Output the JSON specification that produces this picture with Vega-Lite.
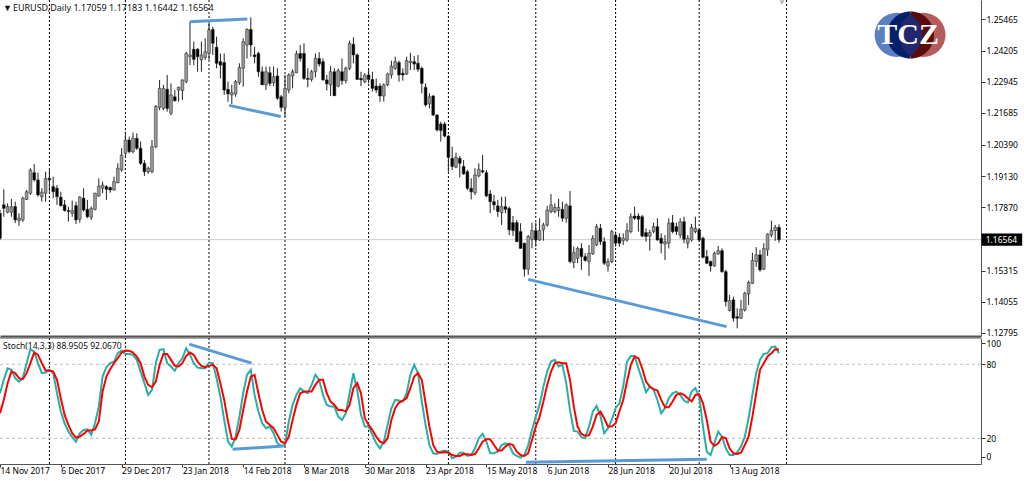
{
  "$schema": "https://vega.github.io/schema/vega-lite/v6.json",
  "autosize": {"type": "none"},
  "padding": {"left": 0, "top": 0, "right": 1024, "bottom": 481},
  "background": "white",
  "spacing": -1,
  "config": {"view": {"stroke": null}, "concat": {"spacing": -1}},
  "datasets": {
    "bars": [
{"bar":0,"open":1.1763,"high":1.1776,"low":1.1655,"close":1.1662,"k":56.5,"d":40.3},
{"bar":1,"open":1.1797,"high":1.1860,"low":1.1749,"close":1.1783,"k":67.4,"d":51.1},
{"bar":2,"open":1.1767,"high":1.1803,"low":1.1763,"close":1.1790,"k":76.8,"d":64.7},
{"bar":3,"open":1.1767,"high":1.1821,"low":1.1749,"close":1.1790,"k":75.5,"d":74.1},
{"bar":4,"open":1.1790,"high":1.1810,"low":1.1723,"close":1.1736,"k":68.7,"d":72.8},
{"bar":5,"open":1.1733,"high":1.1763,"low":1.1712,"close":1.1743,"k":66,"d":68.7},
{"bar":6,"open":1.1736,"high":1.1830,"low":1.1729,"close":1.1824,"k":68.7,"d":67.9},
{"bar":7,"open":1.1819,"high":1.1857,"low":1.1817,"close":1.1850,"k":80.9,"d":72.8},
{"bar":8,"open":1.1844,"high":1.1945,"low":1.1837,"close":1.1938,"k":92.2,"d":80.9},
{"bar":9,"open":1.1927,"high":1.1962,"low":1.1891,"close":1.1898,"k":90.3,"d":89.5},
{"bar":10,"open":1.1898,"high":1.1927,"low":1.1830,"close":1.1837,"k":80.9,"d":87.6},
{"bar":11,"open":1.1830,"high":1.1864,"low":1.1810,"close":1.1848,"k":72.8,"d":80.9},
{"bar":12,"open":1.1844,"high":1.1931,"low":1.1810,"close":1.1904,"k":73.3,"d":74.9},
{"bar":13,"open":1.1904,"high":1.1938,"low":1.1850,"close":1.1898,"k":75.5,"d":74.9},
{"bar":14,"open":1.1871,"high":1.1911,"low":1.1824,"close":1.1850,"k":72.8,"d":74.1},
{"bar":15,"open":1.1864,"high":1.1877,"low":1.1797,"close":1.1830,"k":56.5,"d":67.4},
{"bar":16,"open":1.1828,"high":1.1850,"low":1.1790,"close":1.1794,"k":41.7,"d":52.5},
{"bar":17,"open":1.1797,"high":1.1817,"low":1.1770,"close":1.1774,"k":32.2,"d":39},
{"bar":18,"open":1.1774,"high":1.1790,"low":1.1729,"close":1.1770,"k":25.5,"d":30.9},
{"bar":19,"open":1.1763,"high":1.1814,"low":1.1749,"close":1.1774,"k":20.9,"d":24.1},
{"bar":20,"open":1.1794,"high":1.1810,"low":1.1720,"close":1.1736,"k":17.3,"d":20.6},
{"bar":21,"open":1.1739,"high":1.1833,"low":1.1725,"close":1.1828,"k":24.1,"d":21.4},
{"bar":22,"open":1.1824,"high":1.1864,"low":1.1770,"close":1.1776,"k":26.8,"d":23.6},
{"bar":23,"open":1.1779,"high":1.1817,"low":1.1743,"close":1.1749,"k":27.3,"d":26.3},
{"bar":24,"open":1.1747,"high":1.1790,"low":1.1736,"close":1.1783,"k":22.8,"d":26.3},
{"bar":25,"open":1.1779,"high":1.1846,"low":1.1774,"close":1.1844,"k":32.2,"d":27.3},
{"bar":26,"open":1.1833,"high":1.1904,"low":1.1830,"close":1.1873,"k":45.7,"d":33.6},
{"bar":27,"open":1.1864,"high":1.1891,"low":1.1844,"close":1.1877,"k":70,"d":57.9},
{"bar":28,"open":1.1871,"high":1.1877,"low":1.1817,"close":1.1860,"k":77.6,"d":70},
{"bar":29,"open":1.1867,"high":1.1871,"low":1.1846,"close":1.1857,"k":80.9,"d":76},
{"bar":30,"open":1.1857,"high":1.1911,"low":1.1855,"close":1.1891,"k":82.2,"d":80.9},
{"bar":31,"open":1.1887,"high":1.1965,"low":1.1884,"close":1.1945,"k":89,"d":84.9},
{"bar":32,"open":1.1938,"high":1.2026,"low":1.1931,"close":1.1999,"k":91.1,"d":89.5},
{"bar":33,"open":1.2005,"high":1.2093,"low":1.1992,"close":1.2059,"k":88.4,"d":91.1},
{"bar":34,"open":1.2059,"high":1.2073,"low":1.2005,"close":1.2012,"k":88.4,"d":90.9},
{"bar":35,"open":1.2012,"high":1.2089,"low":1.2005,"close":1.2066,"k":87.6,"d":89.5},
{"bar":36,"open":1.2066,"high":1.2086,"low":1.2019,"close":1.2026,"k":83.6,"d":86.3},
{"bar":37,"open":1.2026,"high":1.2053,"low":1.1958,"close":1.1965,"k":74.1,"d":80.9},
{"bar":38,"open":1.1965,"high":1.1978,"low":1.1914,"close":1.1931,"k":64.7,"d":70},
{"bar":39,"open":1.1931,"high":1.1952,"low":1.1922,"close":1.1945,"k":55.2,"d":63.3},
{"bar":40,"open":1.1931,"high":1.2059,"low":1.1925,"close":1.2032,"k":59.2,"d":61.4},
{"bar":41,"open":1.2032,"high":1.2201,"low":1.2026,"close":1.2194,"k":80.9,"d":66},
{"bar":42,"open":1.2191,"high":1.2302,"low":1.2180,"close":1.2268,"k":91.7,"d":79.5},
{"bar":43,"open":1.2187,"high":1.2282,"low":1.2180,"close":1.2268,"k":92.2,"d":88.4},
{"bar":44,"open":1.2264,"high":1.2322,"low":1.2174,"close":1.2187,"k":80.9,"d":88.4},
{"bar":45,"open":1.2167,"high":1.2288,"low":1.2160,"close":1.2241,"k":78.2,"d":83.6},
{"bar":46,"open":1.2234,"high":1.2261,"low":1.2214,"close":1.2218,"k":74.7,"d":78.7},
{"bar":47,"open":1.2261,"high":1.2275,"low":1.2214,"close":1.2272,"k":80.9,"d":78.2},
{"bar":48,"open":1.2259,"high":1.2304,"low":1.2221,"close":1.2302,"k":84.9,"d":80.9},
{"bar":49,"open":1.2295,"high":1.2416,"low":1.2288,"close":1.2409,"k":93,"d":86.8},
{"bar":50,"open":1.2396,"high":1.2537,"low":1.2362,"close":1.2403,"k":87.6,"d":89.5},
{"bar":51,"open":1.2426,"high":1.2457,"low":1.2362,"close":1.2385,"k":80.9,"d":87.6},
{"bar":52,"open":1.2426,"high":1.2430,"low":1.2335,"close":1.2396,"k":77.3,"d":82.2},
{"bar":53,"open":1.2383,"high":1.2457,"low":1.2335,"close":1.2403,"k":76.8,"d":78.7},
{"bar":54,"open":1.2393,"high":1.2470,"low":1.2383,"close":1.2416,"k":76.8,"d":77.6},
{"bar":55,"open":1.2409,"high":1.2537,"low":1.2383,"close":1.2504,"k":81.4,"d":78.7},
{"bar":56,"open":1.2506,"high":1.2517,"low":1.2403,"close":1.2450,"k":80.9,"d":79.5},
{"bar":57,"open":1.2434,"high":1.2477,"low":1.2349,"close":1.2369,"k":68.7,"d":76.8},
{"bar":58,"open":1.2376,"high":1.2409,"low":1.2308,"close":1.2362,"k":53.8,"d":64.7},
{"bar":59,"open":1.2372,"high":1.2409,"low":1.2241,"close":1.2261,"k":34.9,"d":51.1},
{"bar":60,"open":1.2264,"high":1.2295,"low":1.2214,"close":1.2245,"k":17.3,"d":33.6},
{"bar":61,"open":1.2241,"high":1.2282,"low":1.2205,"close":1.2251,"k":13.3,"d":19.5},
{"bar":62,"open":1.2245,"high":1.2302,"low":1.2234,"close":1.2295,"k":21.4,"d":19.2},
{"bar":63,"open":1.2291,"high":1.2369,"low":1.2282,"close":1.2352,"k":37.6,"d":26.8},
{"bar":64,"open":1.2349,"high":1.2470,"low":1.2275,"close":1.2457,"k":56.5,"d":43},
{"bar":65,"open":1.2443,"high":1.2511,"low":1.2389,"close":1.2506,"k":71.4,"d":57.9},
{"bar":66,"open":1.2506,"high":1.2555,"low":1.2396,"close":1.2443,"k":75.5,"d":70},
{"bar":67,"open":1.2403,"high":1.2436,"low":1.2369,"close":1.2396,"k":55.2,"d":71.4},
{"bar":68,"open":1.2409,"high":1.2416,"low":1.2315,"close":1.2335,"k":41.7,"d":56.5},
{"bar":69,"open":1.2335,"high":1.2356,"low":1.2282,"close":1.2282,"k":32.2,"d":43},
{"bar":70,"open":1.2282,"high":1.2356,"low":1.2261,"close":1.2335,"k":28.2,"d":33.6},
{"bar":71,"open":1.2331,"high":1.2356,"low":1.2277,"close":1.2288,"k":29.5,"d":30.9},
{"bar":72,"open":1.2291,"high":1.2356,"low":1.2277,"close":1.2315,"k":24.1,"d":28.2},
{"bar":73,"open":1.2318,"high":1.2349,"low":1.2221,"close":1.2228,"k":16,"d":22.8},
{"bar":74,"open":1.2234,"high":1.2241,"low":1.2174,"close":1.2191,"k":13.8,"d":17.3},
{"bar":75,"open":1.2191,"high":1.2322,"low":1.2154,"close":1.2268,"k":14.6,"d":16},
{"bar":76,"open":1.2261,"high":1.2329,"low":1.2248,"close":1.2322,"k":33.6,"d":21.4},
{"bar":77,"open":1.2318,"high":1.2345,"low":1.2268,"close":1.2335,"k":47.1,"d":34.9},
{"bar":78,"open":1.2331,"high":1.2420,"low":1.2329,"close":1.2407,"k":55.2,"d":47.1},
{"bar":79,"open":1.2409,"high":1.2443,"low":1.2376,"close":1.2389,"k":60.6,"d":56.5},
{"bar":80,"open":1.2409,"high":1.2450,"low":1.2302,"close":1.2308,"k":57.9,"d":57.9},
{"bar":81,"open":1.2308,"high":1.2349,"low":1.2272,"close":1.2304,"k":56.5,"d":57.9},
{"bar":82,"open":1.2304,"high":1.2342,"low":1.2295,"close":1.2335,"k":63.3,"d":57.9},
{"bar":83,"open":1.2335,"high":1.2409,"low":1.2312,"close":1.2389,"k":71.4,"d":63.3},
{"bar":84,"open":1.2389,"high":1.2414,"low":1.2356,"close":1.2366,"k":67.4,"d":67.4},
{"bar":85,"open":1.2376,"high":1.2389,"low":1.2299,"close":1.2302,"k":55.2,"d":67.4},
{"bar":86,"open":1.2302,"high":1.2322,"low":1.2259,"close":1.2286,"k":47.1,"d":56.5},
{"bar":87,"open":1.2282,"high":1.2358,"low":1.2237,"close":1.2335,"k":45.7,"d":49.8},
{"bar":88,"open":1.2335,"high":1.2349,"low":1.2237,"close":1.2238,"k":45.7,"d":47.1},
{"bar":89,"open":1.2277,"high":1.2349,"low":1.2272,"close":1.2339,"k":37.6,"d":43},
{"bar":90,"open":1.2335,"high":1.2389,"low":1.2282,"close":1.2299,"k":34.9,"d":43},
{"bar":91,"open":1.2299,"high":1.2356,"low":1.2288,"close":1.2349,"k":40.3,"d":41.7},
{"bar":92,"open":1.2349,"high":1.2461,"low":1.2342,"close":1.2450,"k":56.5,"d":47.1},
{"bar":93,"open":1.2446,"high":1.2474,"low":1.2369,"close":1.2403,"k":72.8,"d":60.6},
{"bar":94,"open":1.2403,"high":1.2409,"low":1.2302,"close":1.2304,"k":59.2,"d":64.7},
{"bar":95,"open":1.2308,"high":1.2335,"low":1.2277,"close":1.2302,"k":39,"d":56.5},
{"bar":96,"open":1.2295,"high":1.2329,"low":1.2288,"close":1.2322,"k":29.5,"d":36.3},
{"bar":97,"open":1.2322,"high":1.2342,"low":1.2288,"close":1.2304,"k":29.5,"d":30.9},
{"bar":98,"open":1.2304,"high":1.2335,"low":1.2255,"close":1.2268,"k":22.8,"d":26.8},
{"bar":99,"open":1.2277,"high":1.2308,"low":1.2250,"close":1.2261,"k":16,"d":21.4},
{"bar":100,"open":1.2277,"high":1.2288,"low":1.2214,"close":1.2237,"k":11.9,"d":17.3},
{"bar":101,"open":1.2237,"high":1.2288,"low":1.2214,"close":1.2282,"k":17.3,"d":16},
{"bar":102,"open":1.2282,"high":1.2331,"low":1.2277,"close":1.2326,"k":30.9,"d":20.1},
{"bar":103,"open":1.2322,"high":1.2380,"low":1.2308,"close":1.2358,"k":44.4,"d":34.9},
{"bar":104,"open":1.2349,"high":1.2396,"low":1.2342,"close":1.2376,"k":51.1,"d":44.4},
{"bar":105,"open":1.2372,"high":1.2380,"low":1.2295,"close":1.2322,"k":50.6,"d":49},
{"bar":106,"open":1.2329,"high":1.2349,"low":1.2299,"close":1.2322,"k":49.8,"d":50.6},
{"bar":107,"open":1.2326,"high":1.2396,"low":1.2322,"close":1.2380,"k":56.5,"d":52.5},
{"bar":108,"open":1.2372,"high":1.2412,"low":1.2342,"close":1.2378,"k":71.4,"d":60.6},
{"bar":109,"open":1.2376,"high":1.2399,"low":1.2342,"close":1.2366,"k":79.5,"d":70},
{"bar":110,"open":1.2369,"high":1.2403,"low":1.2335,"close":1.2345,"k":72.8,"d":72.8},
{"bar":111,"open":1.2349,"high":1.2356,"low":1.2248,"close":1.2288,"k":49.8,"d":67.4},
{"bar":112,"open":1.2272,"high":1.2288,"low":1.2194,"close":1.2201,"k":30.9,"d":48.4},
{"bar":113,"open":1.2205,"high":1.2248,"low":1.2187,"close":1.2234,"k":14.6,"d":29.5},
{"bar":114,"open":1.2237,"high":1.2241,"low":1.2156,"close":1.2160,"k":7.9,"d":14.6},
{"bar":115,"open":1.2160,"high":1.2164,"low":1.2093,"close":1.2100,"k":7.3,"d":9.2},
{"bar":116,"open":1.2124,"high":1.2133,"low":1.2053,"close":1.2097,"k":9.2,"d":8.4},
{"bar":117,"open":1.2124,"high":1.2133,"low":1.2070,"close":1.2075,"k":10.1,"d":9},
{"bar":118,"open":1.2075,"high":1.2079,"low":1.1931,"close":1.1989,"k":9.2,"d":8.4},
{"bar":119,"open":1.1985,"high":1.2032,"low":1.1938,"close":1.1952,"k":3.8,"d":6.5},
{"bar":120,"open":1.1949,"high":1.2008,"low":1.1945,"close":1.1989,"k":5.2,"d":5.7},
{"bar":121,"open":1.1985,"high":1.1995,"low":1.1908,"close":1.1965,"k":8.4,"d":5.7},
{"bar":122,"open":1.1952,"high":1.1978,"low":1.1918,"close":1.1922,"k":8.4,"d":7.3},
{"bar":123,"open":1.1931,"high":1.1938,"low":1.1857,"close":1.1864,"k":5.7,"d":7.1},
{"bar":124,"open":1.1864,"high":1.1904,"low":1.1819,"close":1.1850,"k":6.5,"d":6.5},
{"bar":125,"open":1.1846,"high":1.1945,"low":1.1837,"close":1.1918,"k":11.9,"d":7.3},
{"bar":126,"open":1.1914,"high":1.1965,"low":1.1908,"close":1.1941,"k":20.1,"d":11.9},
{"bar":127,"open":1.1935,"high":1.1999,"low":1.1925,"close":1.1930,"k":23.6,"d":17.3},
{"bar":128,"open":1.1927,"high":1.1938,"low":1.1828,"close":1.1833,"k":17.3,"d":19.2},
{"bar":129,"open":1.1841,"high":1.1857,"low":1.1763,"close":1.1810,"k":7.9,"d":19.2},
{"bar":130,"open":1.1810,"high":1.1837,"low":1.1776,"close":1.1797,"k":7.9,"d":14.6},
{"bar":131,"open":1.1793,"high":1.1817,"low":1.1749,"close":1.1770,"k":9.2,"d":10.1},
{"bar":132,"open":1.1766,"high":1.1830,"low":1.1716,"close":1.1790,"k":14.6,"d":10.1},
{"bar":133,"open":1.1790,"high":1.1830,"low":1.1763,"close":1.1779,"k":16,"d":13.3},
{"bar":134,"open":1.1783,"high":1.1790,"low":1.1675,"close":1.1696,"k":14.6,"d":15.5},
{"bar":135,"open":1.1725,"high":1.1752,"low":1.1671,"close":1.1693,"k":7.9,"d":14.6},
{"bar":136,"open":1.1725,"high":1.1736,"low":1.1648,"close":1.1648,"k":5.7,"d":9.2},
{"bar":137,"open":1.1689,"high":1.1723,"low":1.1621,"close":1.1621,"k":4.4,"d":6.5},
{"bar":138,"open":1.1642,"high":1.1644,"low":1.1507,"close":1.1537,"k":6.5,"d":5.7},
{"bar":139,"open":1.1537,"high":1.1675,"low":1.1514,"close":1.1669,"k":14.6,"d":7.9},
{"bar":140,"open":1.1658,"high":1.1725,"low":1.1621,"close":1.1693,"k":26.8,"d":18.7},
{"bar":141,"open":1.1693,"high":1.1725,"low":1.1628,"close":1.1655,"k":37.6,"d":29.5},
{"bar":142,"open":1.1655,"high":1.1743,"low":1.1652,"close":1.1693,"k":47.1,"d":37.6},
{"bar":143,"open":1.1696,"high":1.1725,"low":1.1652,"close":1.1716,"k":61.9,"d":49.8},
{"bar":144,"open":1.1716,"high":1.1793,"low":1.1709,"close":1.1776,"k":74.1,"d":63.3},
{"bar":145,"open":1.1770,"high":1.1841,"low":1.1763,"close":1.1797,"k":82.2,"d":74.1},
{"bar":146,"open":1.1770,"high":1.1803,"low":1.1763,"close":1.1787,"k":83.6,"d":80.9},
{"bar":147,"open":1.1774,"high":1.1821,"low":1.1749,"close":1.1787,"k":78.2,"d":81.7},
{"bar":148,"open":1.1779,"high":1.1810,"low":1.1729,"close":1.1743,"k":79.5,"d":80.9},
{"bar":149,"open":1.1743,"high":1.1803,"low":1.1725,"close":1.1797,"k":64.7,"d":80.9},
{"bar":150,"open":1.1793,"high":1.1853,"low":1.1561,"close":1.1568,"k":43,"d":67.4},
{"bar":151,"open":1.1564,"high":1.1628,"low":1.1541,"close":1.1604,"k":26,"d":45.7},
{"bar":152,"open":1.1581,"high":1.1628,"low":1.1561,"close":1.1621,"k":25.5,"d":29.5},
{"bar":153,"open":1.1621,"high":1.1642,"low":1.1534,"close":1.1588,"k":20.9,"d":23.6},
{"bar":154,"open":1.1588,"high":1.1601,"low":1.1568,"close":1.1572,"k":20.1,"d":22.2},
{"bar":155,"open":1.1568,"high":1.1635,"low":1.1510,"close":1.1601,"k":29.5,"d":22.5},
{"bar":156,"open":1.1599,"high":1.1675,"low":1.1595,"close":1.1662,"k":41.7,"d":29.5},
{"bar":157,"open":1.1635,"high":1.1720,"low":1.1631,"close":1.1709,"k":46.3,"d":39},
{"bar":158,"open":1.1702,"high":1.1720,"low":1.1635,"close":1.1648,"k":38.2,"d":41.7},
{"bar":159,"open":1.1648,"high":1.1666,"low":1.1554,"close":1.1561,"k":24.1,"d":36.3},
{"bar":160,"open":1.1550,"high":1.1581,"low":1.1527,"close":1.1568,"k":28.2,"d":29.5},
{"bar":161,"open":1.1568,"high":1.1696,"low":1.1561,"close":1.1689,"k":34.9,"d":29.5},
{"bar":162,"open":1.1675,"high":1.1689,"low":1.1628,"close":1.1642,"k":44.4,"d":32.2},
{"bar":163,"open":1.1666,"high":1.1682,"low":1.1628,"close":1.1642,"k":48.4,"d":41.7},
{"bar":164,"open":1.1652,"high":1.1682,"low":1.1635,"close":1.1662,"k":61.9,"d":51.1},
{"bar":165,"open":1.1655,"high":1.1723,"low":1.1648,"close":1.1693,"k":82.2,"d":66},
{"bar":166,"open":1.1689,"high":1.1763,"low":1.1682,"close":1.1749,"k":86.8,"d":79.5},
{"bar":167,"open":1.1752,"high":1.1790,"low":1.1736,"close":1.1743,"k":86.8,"d":86.3},
{"bar":168,"open":1.1752,"high":1.1763,"low":1.1689,"close":1.1739,"k":76.8,"d":84.9},
{"bar":169,"open":1.1749,"high":1.1756,"low":1.1666,"close":1.1671,"k":67.4,"d":76.8},
{"bar":170,"open":1.1685,"high":1.1702,"low":1.1648,"close":1.1669,"k":57.3,"d":66},
{"bar":171,"open":1.1671,"high":1.1696,"low":1.1612,"close":1.1685,"k":61.9,"d":61.9},
{"bar":172,"open":1.1689,"high":1.1725,"low":1.1682,"close":1.1709,"k":59.2,"d":59.8},
{"bar":173,"open":1.1709,"high":1.1743,"low":1.1652,"close":1.1655,"k":51.1,"d":58.7},
{"bar":174,"open":1.1662,"high":1.1682,"low":1.1601,"close":1.1642,"k":40.3,"d":51.1},
{"bar":175,"open":1.1639,"high":1.1675,"low":1.1574,"close":1.1648,"k":44.4,"d":45.2},
{"bar":176,"open":1.1642,"high":1.1743,"low":1.1621,"close":1.1723,"k":52.5,"d":45.2},
{"bar":177,"open":1.1725,"high":1.1756,"low":1.1682,"close":1.1689,"k":56.5,"d":49.8},
{"bar":178,"open":1.1709,"high":1.1725,"low":1.1675,"close":1.1689,"k":57.9,"d":55.2},
{"bar":179,"open":1.1675,"high":1.1743,"low":1.1662,"close":1.1729,"k":55.2,"d":56.5},
{"bar":180,"open":1.1729,"high":1.1749,"low":1.1642,"close":1.1658,"k":50.6,"d":55.2},
{"bar":181,"open":1.1642,"high":1.1675,"low":1.1621,"close":1.1662,"k":49,"d":52.5},
{"bar":182,"open":1.1655,"high":1.1720,"low":1.1648,"close":1.1706,"k":57.9,"d":49.8},
{"bar":183,"open":1.1689,"high":1.1749,"low":1.1682,"close":1.1702,"k":60.6,"d":55.2},
{"bar":184,"open":1.1696,"high":1.1702,"low":1.1648,"close":1.1655,"k":53.8,"d":55.7},
{"bar":185,"open":1.1662,"high":1.1669,"low":1.1581,"close":1.1585,"k":29.5,"d":48.4},
{"bar":186,"open":1.1588,"high":1.1615,"low":1.1558,"close":1.1561,"k":9.2,"d":34.9},
{"bar":187,"open":1.1568,"high":1.1572,"low":1.1527,"close":1.1550,"k":6.5,"d":17.3},
{"bar":188,"open":1.1550,"high":1.1608,"low":1.1547,"close":1.1601,"k":16,"d":13.8},
{"bar":189,"open":1.1599,"high":1.1631,"low":1.1595,"close":1.1612,"k":25.5,"d":16},
{"bar":190,"open":1.1612,"high":1.1621,"low":1.1523,"close":1.1527,"k":21.4,"d":20.9},
{"bar":191,"open":1.1527,"high":1.1534,"low":1.1386,"close":1.1406,"k":11.9,"d":20.1},
{"bar":192,"open":1.1370,"high":1.1433,"low":1.1366,"close":1.1410,"k":6.5,"d":11.9},
{"bar":193,"open":1.1413,"high":1.1426,"low":1.1325,"close":1.1339,"k":6.5,"d":7.9},
{"bar":194,"open":1.1345,"high":1.1379,"low":1.1298,"close":1.1339,"k":8.4,"d":7.3},
{"bar":195,"open":1.1339,"high":1.1413,"low":1.1335,"close":1.1375,"k":13.3,"d":8.4},
{"bar":196,"open":1.1372,"high":1.1446,"low":1.1366,"close":1.1440,"k":21.4,"d":14.6},
{"bar":197,"open":1.1437,"high":1.1491,"low":1.1392,"close":1.1483,"k":36.3,"d":21.4},
{"bar":198,"open":1.1480,"high":1.1604,"low":1.1477,"close":1.1572,"k":55.2,"d":37.6},
{"bar":199,"open":1.1568,"high":1.1626,"low":1.1547,"close":1.1595,"k":72.8,"d":56.5},
{"bar":200,"open":1.1595,"high":1.1615,"low":1.1527,"close":1.1534,"k":83.6,"d":75.5},
{"bar":201,"open":1.1537,"high":1.1642,"low":1.1534,"close":1.1621,"k":88.4,"d":80.9},
{"bar":202,"open":1.1615,"high":1.1682,"low":1.1590,"close":1.1679,"k":89,"d":86.3},
{"bar":203,"open":1.1675,"high":1.1733,"low":1.1666,"close":1.1693,"k":93.8,"d":89},
{"bar":204,"open":1.1693,"high":1.1716,"low":1.1652,"close":1.1706,"k":94.4,"d":92.2},
{"bar":205,"open":1.17059,"high":1.17183,"low":1.16442,"close":1.16564,"k":88.95,"d":92.07}
    ],
    "months": [{"bar":13},{"bar":33},{"bar":55},{"bar":75},{"bar":97},{"bar":118},{"bar":141},{"bar":162},{"bar":184},{"bar":207}],
    "trendPrice": [
      {"line":"top","bar":50,"price":1.2537},{"line":"top","bar":65.1,"price":1.2548},
      {"line":"mid","bar":60.3,"price":1.2199},{"line":"mid","bar":73.9,"price":1.2154},
      {"line":"low","bar":139,"price":1.1496},{"line":"low","bar":191.2,"price":1.1305}
    ],
    "trendStoch": [
      {"line":"top","bar":49.8,"value":96.3},{"line":"top","bar":66.2,"value":80.9},
      {"line":"mid","bar":61.2,"value":11.1},{"line":"mid","bar":74.6,"value":13.8},
      {"line":"low","bar":138.4,"value":0.6},{"line":"low","bar":186,"value":3}
    ],
    "levels": [{"value":80},{"value":20}],
    "lastPrice": [{"price":1.16564,"hi":1.1681,"lo":1.1632,"from":258.3,"to":269,"textBar":259.4,"label":"1.16564"}],
    "logo": [{"bar":236,"price":1.2484,"bar2":243,"bar3":239.6,"bar4":239}]
  },
  "vconcat": [
    {
      "width": 981,
      "height": 336,
      "layer": [
        {
          "data": {"name": "months"},
          "mark": {"type": "rule", "color": "#000", "strokeWidth": 1, "strokeDash": [2, 2]},
          "encoding": {
            "x": {
              "field": "bar", "type": "quantitative",
              "scale": {"domain": [0, 258.16], "nice": false, "zero": false, "padding": 0},
              "axis": {"title": null, "labels": false, "ticks": false, "grid": false, "domain": true, "domainColor": "#555", "domainWidth": 2}
            }
          }
        },
        {
          "data": {"name": "lastPrice"},
          "mark": {"type": "rule", "color": "#cfcfcf", "strokeWidth": 1},
          "encoding": {
            "y": {
              "field": "price", "type": "quantitative",
              "scale": {"domain": [1.1267, 1.2625], "nice": false, "zero": false},
              "axis": {
                "orient": "right", "title": null, "grid": false, "format": ".5f",
                "values": [1.25465, 1.24205, 1.22945, 1.21685, 1.2039, 1.1913, 1.1787, 1.15315, 1.14055, 1.12795],
                "tickCount": 20,
                "labelOverlap": false,
                "domain": true, "domainColor": "#555", "domainWidth": 1,
                "tickSize": 4, "tickColor": "#333", "labelPadding": 1,
                "labelFont": "Noto Sans", "labelFontSize": 8.5, "labelColor": "#000"
              }
            }
          }
        },
        {
          "data": {"name": "bars"},
          "mark": {"type": "rule", "color": "#222", "strokeWidth": 1, "clip": true},
          "encoding": {
            "x": {"field": "bar", "type": "quantitative"},
            "y": {"field": "low", "type": "quantitative"},
            "y2": {"field": "high"}
          }
        },
        {
          "data": {"name": "bars"},
          "mark": {"type": "bar", "size": 2.8, "clip": true, "stroke": "#222", "strokeWidth": 0.5},
          "encoding": {
            "x": {"field": "bar", "type": "quantitative"},
            "y": {"field": "open", "type": "quantitative"},
            "y2": {"field": "close"},
            "color": {"condition": {"test": "datum.close >= datum.open", "value": "#9a9a9a"}, "value": "#000"}
          }
        },
        {
          "data": {"name": "trendPrice"},
          "mark": {"type": "line", "color": "#5b9bd5", "strokeWidth": 3},
          "encoding": {
            "x": {"field": "bar", "type": "quantitative"},
            "y": {"field": "price", "type": "quantitative"},
            "detail": {"field": "line"}
          }
        },
        {
          "data": {"name": "lastPrice"},
          "mark": {"type": "rect", "color": "#000"},
          "encoding": {
            "x": {"field": "from", "type": "quantitative"},
            "x2": {"field": "to"},
            "y": {"field": "hi", "type": "quantitative"},
            "y2": {"field": "lo"}
          }
        },
        {
          "data": {"name": "lastPrice"},
          "mark": {"type": "text", "align": "left", "baseline": "middle", "color": "#fff", "font": "Noto Sans", "fontSize": 8.5},
          "encoding": {
            "x": {"field": "textBar", "type": "quantitative"},
            "y": {"field": "price", "type": "quantitative"},
            "text": {"field": "label"}
          }
        },
        {
          "data": {"name": "logo"},
          "mark": {"type": "point", "shape": "circle", "filled": true, "opacity": 1, "size": 1963, "color": "#5b7fc0"},
          "encoding": {"x": {"field": "bar", "type": "quantitative"}, "y": {"field": "price", "type": "quantitative"}}
        },
        {
          "data": {"name": "logo"},
          "mark": {"type": "point", "shape": "circle", "filled": true, "opacity": 1, "size": 1963, "color": "#b45c5c"},
          "encoding": {"x": {"field": "bar2", "type": "quantitative"}, "y": {"field": "price", "type": "quantitative"}}
        },
        {
          "data": {"name": "logo"},
          "mark": {"type": "point", "shape": "M0,-1 A1,1 0 0,0 0,1 Z", "filled": true, "opacity": 1, "size": 2209, "color": "#03206a"},
          "encoding": {"x": {"field": "bar3", "type": "quantitative"}, "y": {"field": "price", "type": "quantitative"}}
        },
        {
          "data": {"name": "logo"},
          "mark": {"type": "point", "shape": "M0,-1 A1,1 0 0,1 0,1 Z", "filled": true, "opacity": 1, "size": 2209, "color": "#5c0a0a"},
          "encoding": {"x": {"field": "bar3", "type": "quantitative"}, "y": {"field": "price", "type": "quantitative"}}
        },
        {
          "data": {"name": "logo"},
          "mark": {"type": "point", "shape": "M0,-1 A1.19,1.19 0 0,1 0,1 A1.19,1.19 0 0,1 0,-1 Z", "filled": true, "opacity": 1, "size": 1764, "color": "#23286e"},
          "encoding": {"x": {"field": "bar3", "type": "quantitative"}, "y": {"field": "price", "type": "quantitative"}}
        },
        {
          "data": {"values": [{"bar": 239, "price": 1.2484, "label": "TCZ"}]},
          "mark": {"type": "text", "align": "center", "baseline": "middle", "color": "#fff", "font": "Liberation Serif", "fontWeight": "bold", "fontSize": 30},
          "encoding": {
            "x": {"field": "bar", "type": "quantitative"},
            "y": {"field": "price", "type": "quantitative"},
            "text": {"field": "label"}
          }
        },
        {
          "data": {"values": [{"bar": 205.8, "price": 1.2614}]},
          "mark": {"type": "point", "shape": "triangle-down", "filled": true, "opacity": 1, "size": 30, "color": "#bbb"},
          "encoding": {"x": {"field": "bar", "type": "quantitative"}, "y": {"field": "price", "type": "quantitative"}}
        },
        {
          "data": {"values": [{"bar": 0.8, "price": 1.2593, "label": "▼"}, {"bar": 3.4, "price": 1.2593, "label": "EURUSD,Daily  1.17059 1.17183 1.16442 1.16564"}]},
          "mark": {"type": "text", "align": "left", "baseline": "middle", "color": "#111", "font": "Noto Sans", "fontSize": 9},
          "encoding": {
            "x": {"field": "bar", "type": "quantitative"},
            "y": {"field": "price", "type": "quantitative"},
            "text": {"field": "label"}
          }
        }
      ]
    },
    {
      "width": 981,
      "height": 126,
      "layer": [
        {
          "data": {"name": "months"},
          "mark": {"type": "rule", "color": "#000", "strokeWidth": 1, "strokeDash": [2, 2]},
          "encoding": {
            "x": {
              "field": "bar", "type": "quantitative",
              "scale": {"domain": [0, 258.16], "nice": false, "zero": false},
              "axis": {
                "title": null, "grid": false,
                "values": [0, 16, 32, 48, 64, 80, 96, 112, 128, 144, 160, 176, 192],
                "labelExpr": "['14 Nov 2017','6 Dec 2017','29 Dec 2017','23 Jan 2018','14 Feb 2018','8 Mar 2018','30 Mar 2018','23 Apr 2018','15 May 2018','6 Jun 2018','28 Jun 2018','20 Jul 2018','13 Aug 2018'][datum.value / 16]",
                "labelAlign": "left", "labelFlush": false, "labelOverlap": false, "labelBound": false,
                "labelFont": "Noto Sans", "labelFontSize": 8.5, "labelColor": "#000", "labelPadding": -1,
                "tickSize": 3, "tickColor": "#333",
                "domain": true, "domainColor": "#555", "domainWidth": 1
              }
            }
          }
        },
        {
          "data": {"name": "levels"},
          "mark": {"type": "rule", "color": "#bdbdbd", "strokeWidth": 1, "strokeDash": [3, 3]},
          "encoding": {
            "y": {
              "field": "value", "type": "quantitative",
              "scale": {"domain": [-0.8, 101.3], "nice": false, "zero": false},
              "axis": {
                "orient": "right", "title": null, "grid": false,
                "values": [5, 20, 80, 97],
                "tickCount": 10,
                "labelExpr": "datum.value == 97 ? '100' : datum.value == 5 ? '0' : datum.value",
                "labelOverlap": false,
                "domain": true, "domainColor": "#555", "domainWidth": 1,
                "tickSize": 4, "tickColor": "#333", "labelPadding": 1,
                "labelFont": "Noto Sans", "labelFontSize": 8.5, "labelColor": "#000"
              }
            }
          }
        },
        {
          "data": {"values": [{"value": 101.3}]},
          "mark": {"type": "rule", "color": "#555", "strokeWidth": 1},
          "encoding": {"y": {"field": "value", "type": "quantitative"}}
        },
        {
          "data": {"name": "bars"},
          "mark": {"type": "line", "color": "#25b0a6", "strokeWidth": 2, "clip": true},
          "encoding": {"x": {"field": "bar", "type": "quantitative"}, "y": {"field": "k", "type": "quantitative"}}
        },
        {
          "data": {"name": "bars"},
          "mark": {"type": "line", "color": "#ff0000", "strokeWidth": 2, "clip": true},
          "encoding": {"x": {"field": "bar", "type": "quantitative"}, "y": {"field": "d", "type": "quantitative"}}
        },
        {
          "data": {"name": "trendStoch"},
          "mark": {"type": "line", "color": "#5b9bd5", "strokeWidth": 3},
          "encoding": {
            "x": {"field": "bar", "type": "quantitative"},
            "y": {"field": "value", "type": "quantitative"},
            "detail": {"field": "line"}
          }
        },
        {
          "data": {"values": [{"bar": 0.8, "value": 94.9, "label": "Stoch(14,3,3) 88.9505 92.0670"}]},
          "mark": {"type": "text", "align": "left", "baseline": "middle", "color": "#111", "font": "Noto Sans", "fontSize": 8.5},
          "encoding": {
            "x": {"field": "bar", "type": "quantitative"},
            "y": {"field": "value", "type": "quantitative"},
            "text": {"field": "label"}
          }
        }
      ]
    }
  ]
}
